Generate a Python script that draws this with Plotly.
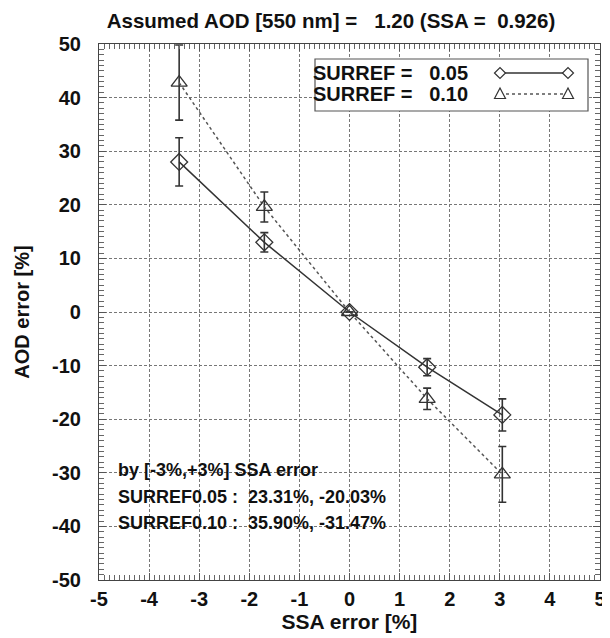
import plotly.graph_objects as go

# ---- data ----
ssa_err = [-3.4, -1.7, 0.0, 1.55, 3.05]
aod_err_005 = [28.0, 13.0, 0.0, -10.3, -19.2]
aod_sd_005 = [4.5, 1.8, 0.0, 1.6, 3.0]
aod_err_010 = [42.8, 19.6, 0.0, -16.2, -30.3]
aod_sd_010 = [7.0, 2.8, 0.0, 2.0, 5.2]
series_names = ["SURREF = \u00a0\u00a00.05", "SURREF = \u00a0\u00a00.10"]
x_ticks = [-5, -4, -3, -2, -1, 0, 1, 2, 3, 4, 5]
y_ticks = [-50, -40, -30, -20, -10, 0, 10, 20, 30, 40, 50]
notes = [
    "by [-3%,+3%] SSA error",
    "SURREF0.05 :\u00a0\u00a023.31%, -20.03%",
    "SURREF0.10 :\u00a0\u00a035.90%, -31.47%",
]
title_text = "Assumed AOD [550 nm] =\u00a0\u00a0\u00a01.20 (SSA =\u00a0\u00a00.926)"

FONT = "Liberation Sans, Arial, sans-serif"
INK = "#333333"
TXT = "#111111"

fig = go.Figure()
fig.add_trace(go.Scatter(
    x=ssa_err, y=aod_err_005, mode="lines+markers", name=series_names[0],
    line=dict(color=INK, width=1.5),
    marker=dict(symbol="diamond-open", size=13, color=INK, line=dict(width=1.3)),
    error_y=dict(type="data", array=aod_sd_005, color=INK, thickness=1.6, width=4),
    showlegend=False,
))
fig.add_trace(go.Scatter(
    x=ssa_err, y=aod_err_010, mode="lines+markers", name=series_names[1],
    line=dict(color="#555555", width=1.5, dash="dot"),
    marker=dict(symbol="triangle-up-open", size=14, color=INK, line=dict(width=1.3)),
    error_y=dict(type="data", array=aod_sd_010, color=INK, thickness=1.6, width=4),
    showlegend=False,
))

axis_common = dict(
    showline=True, linecolor="#444444", linewidth=1.2, mirror="allticks",
    ticks="inside", ticklen=7, tickcolor="#555555", tickwidth=1,
    showgrid=True, gridcolor="#777777", gridwidth=1, griddash="3px,2px",
    zeroline=False, automargin=False,
    tickfont=dict(family=FONT, size=20, color=TXT, weight="bold"),
)

fig.update_xaxes(
    range=[-5, 5], tickvals=x_ticks, ticktext=[str(v) for v in x_ticks],
    minor=dict(dtick=0.1, ticks="inside", ticklen=5, tickcolor="#666666", showgrid=False),
    ticklabelstandoff=1,
    title=dict(text="SSA error [%]", font=dict(family=FONT, size=21, color=TXT, weight="bold"), standoff=2),
    **axis_common,
)
fig.update_yaxes(
    range=[-50, 50], tickvals=y_ticks, ticktext=[str(v) for v in y_ticks],
    minor=dict(dtick=1, ticks="inside", ticklen=5, tickcolor="#666666", showgrid=False),
    ticklabelstandoff=13,
    title=dict(text="AOD error [%]", font=dict(family=FONT, size=20, color=TXT, weight="bold"), standoff=16),
    **axis_common,
)

# plot-area geometry in pixels, for placing the hand-drawn legend box
L, R, T, B = 91, 18, 36, 66
W, H = 610, 638
pw, ph = W - L - R, H - T - B
def px(x):
    return (x - L) / pw
def py(y):
    return 1 - (y - T) / ph

shapes = [
    dict(type="rect", xref="paper", yref="paper", x0=px(307), x1=px(580), y0=py(103), y1=py(51),
         line=dict(color="#555555", width=1.2), fillcolor="white", layer="above"),
    dict(type="line", xref="paper", yref="paper", x0=px(492), x1=px(560), y0=py(65), y1=py(65),
         line=dict(color=INK, width=1.3), layer="above"),
    dict(type="line", xref="paper", yref="paper", x0=px(492), x1=px(560), y0=py(86), y1=py(86),
         line=dict(color="#555555", width=1.3, dash="dot"), layer="above"),
]
diamond = "M -5.5 0 L 0 -5.5 L 5.5 0 L 0 5.5 Z"
triangle = "M -5.5 -4.5 L 0 6 L 5.5 -4.5 Z"
for xp in (492, 560):
    shapes.append(dict(type="path", path=diamond, xref="paper", yref="paper",
                       xsizemode="pixel", ysizemode="pixel", xanchor=px(xp), yanchor=py(65),
                       line=dict(color=INK, width=1.2), fillcolor="white", layer="above"))
    shapes.append(dict(type="path", path=triangle, xref="paper", yref="paper",
                       xsizemode="pixel", ysizemode="pixel", xanchor=px(xp), yanchor=py(86),
                       line=dict(color=INK, width=1.2), fillcolor="white", layer="above"))

annotations = [
    dict(text=series_names[0], xref="paper", yref="paper", x=px(303), y=py(65),
         xanchor="left", yanchor="middle", showarrow=False,
         font=dict(family=FONT, size=20, color=TXT, weight="bold")),
    dict(text=series_names[1], xref="paper", yref="paper", x=px(303), y=py(86),
         xanchor="left", yanchor="middle", showarrow=False,
         font=dict(family=FONT, size=20, color=TXT, weight="bold")),
]
note_y = [462, 489, 515]
for t, yy in zip(notes, note_y):
    annotations.append(dict(text=t, xref="paper", yref="paper", x=px(108), y=py(yy),
                            xanchor="left", yanchor="middle", showarrow=False,
                            font=dict(family=FONT, size=18, color=TXT, weight="bold")))

fig.update_layout(
    width=W, height=H,
    margin=dict(l=L, r=R, t=T, b=B),
    paper_bgcolor="white", plot_bgcolor="white",
    title=dict(text=title_text, x=323 / W, xanchor="center", y=1 - 13 / H, yanchor="middle",
               font=dict(family=FONT, size=20.5, color=TXT, weight="bold")),
    shapes=shapes, annotations=annotations,
)

fig.write_html("out.html")
